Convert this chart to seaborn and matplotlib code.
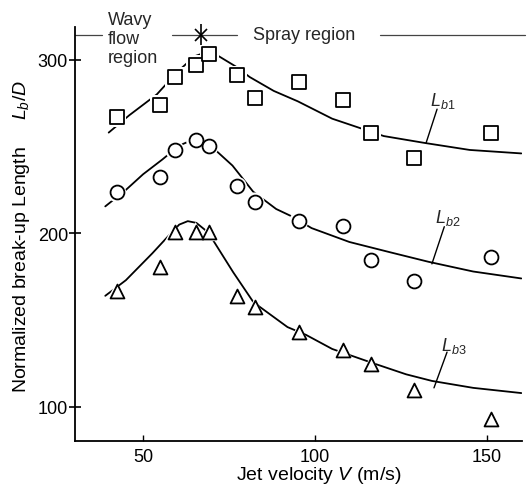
import matplotlib
matplotlib.use('Agg')
import matplotlib.pyplot as plt
import pandas as pd
import seaborn as sns

# measured jet velocities (m/s)
velocity = [42.3, 54.8, 59.2, 65.3, 69.2, 77.4, 82.5, 95.3, 108.1, 116.3, 128.9, 151.1]

# normalized break-up lengths Lb/D
lb1 = [267, 274, 290, 297, 303, 291, 278, 287, 276.5, 257.5, 243.5, 257.5]
lb2 = [223.5, 232.5, 248, 253.5, 250, 227, 218, 207, 204, 184.5, 172.5, 186.5]
lb3 = [167, 180.5, 201, 201, 201, 164, 157.5, 143, 133, 124.5, 110, 93]

# fitted curves
v1_curve = [40, 46, 54, 60, 65, 68, 72, 77, 81, 88, 95, 105, 111, 120, 132, 145, 160]
l1_curve = [258, 268, 280, 293, 302, 304, 302, 296, 290, 282, 276, 266, 262, 256, 252, 248, 246]

v2_curve = [39, 45, 50, 55.6, 60.5, 64, 67, 71, 76, 82, 88.7, 93.4, 99, 110, 122, 133, 146, 160]
l2_curve = [215.5, 225, 234, 242.5, 250.5, 253.5, 253, 248, 239, 224, 214, 209.6, 203, 195, 189, 183.6, 178, 174]

v3_curve = [39, 45, 52.7, 57, 60.5, 63, 65.5, 68, 70.2, 76.2, 82.1, 92, 97.4, 105, 116.6, 126.5, 134, 146, 160]
l3_curve = [164, 173, 188.5, 197.7, 205, 207, 206, 202, 196.5, 177.6, 160.3, 146, 141.5, 133.4, 125.4, 118.8, 115, 111, 108]

sns.set_theme(style='ticks')
plt.rcParams['font.family'] = ['Liberation Sans', 'DejaVu Sans']
plt.rcParams['mathtext.fontset'] = 'custom'
plt.rcParams['mathtext.rm'] = 'Liberation Sans'
plt.rcParams['mathtext.it'] = 'Liberation Sans:italic'

points = pd.DataFrame({'V': velocity * 3, 'L': lb1 + lb2 + lb3,
                       'series': ['Lb1'] * 12 + ['Lb2'] * 12 + ['Lb3'] * 12})
curves = pd.DataFrame({'V': v1_curve + v2_curve + v3_curve,
                       'L': l1_curve + l2_curve + l3_curve,
                       'series': ['Lb1'] * len(v1_curve) + ['Lb2'] * len(v2_curve) + ['Lb3'] * len(v3_curve)})

fig = plt.figure(figsize=(5.27, 4.89), dpi=100)
ax = fig.add_axes([75 / 527, 47 / 489, 447 / 527, 414 / 489])

for s in ['Lb1', 'Lb2', 'Lb3']:
    sns.lineplot(data=curves[curves.series == s], x='V', y='L', sort=False,
                 estimator=None, color='black', lw=1.3, ax=ax, zorder=2)

markers = {'Lb1': 's', 'Lb2': 'o', 'Lb3': '^'}
for s, m in markers.items():
    # white halo so the curve breaks around each marker, like the print
    sns.scatterplot(data=points[points.series == s], x='V', y='L', marker=m,
                    s=190, color='white', edgecolor='none', ax=ax, zorder=2.5)
for s, m in markers.items():
    sns.scatterplot(data=points[points.series == s], x='V', y='L', marker=m,
                    s=100, facecolor='white', edgecolor='black', linewidth=1.3,
                    ax=ax, zorder=3)

ax.set_xlim(30.2, 160.2)
ax.set_ylim(80.4, 318.8)
ax.set_xticks([50, 100, 150])
ax.set_yticks([100, 200, 300])
ax.tick_params(axis='x', direction='in', length=4, width=1, pad=5, labelsize=13, colors='black')
ax.tick_params(axis='y', direction='inout', length=8, width=1.2, pad=1, labelsize=13, colors='black')
sns.despine(ax=ax)
for sp in ['left', 'bottom']:
    ax.spines[sp].set_linewidth(1.3)
    ax.spines[sp].set_color('black')

ax.set_xlabel('Jet velocity $V$ (m/s)', fontsize=14, color='black')
ax.xaxis.set_label_coords(0.546, -0.055)
ax.set_ylabel('Normalized break-up Length     $L_b/D$', fontsize=14, color='black')
ax.yaxis.set_label_coords(-0.097, 0.497)

# region annotations above the curves
ax.text(39.8, 312.3, 'Wavy\nflow\nregion', fontsize=13, ha='left', va='center',
        linespacing=1.15, clip_on=False)
ax.plot([30.2, 38.1], [314, 314], color='#444444', lw=0.9, clip_on=False)
ax.plot([58.4, 77.3], [314, 314], color='#444444', lw=0.9, clip_on=False)
ax.plot([66.8], [314], marker='x', ms=9, mew=1.2, color='black', clip_on=False)
ax.plot([66.8], [314], marker='|', ms=16, mew=1.2, color='black', clip_on=False)
ax.text(82, 314.5, 'Spray region', fontsize=13, ha='left', va='center', clip_on=False)
ax.plot([118.9, 161], [314, 314], color='#444444', lw=0.9, clip_on=False)

# curve labels with leader lines
ax.text(137, 276.5, '$L_{b1}$', fontsize=13, ha='center', va='center')
ax.plot([135.5, 132.3], [271.5, 252], color='black', lw=1)
ax.text(138.7, 209.5, '$L_{b2}$', fontsize=13, ha='center', va='center')
ax.plot([137.6, 134], [203.8, 182.4], color='black', lw=1)
ax.text(140.4, 135.7, '$L_{b3}$', fontsize=13, ha='center', va='center')
ax.plot([138.4, 134.6], [131.6, 111], color='black', lw=1)

fig.savefig('out.png', dpi=100)
